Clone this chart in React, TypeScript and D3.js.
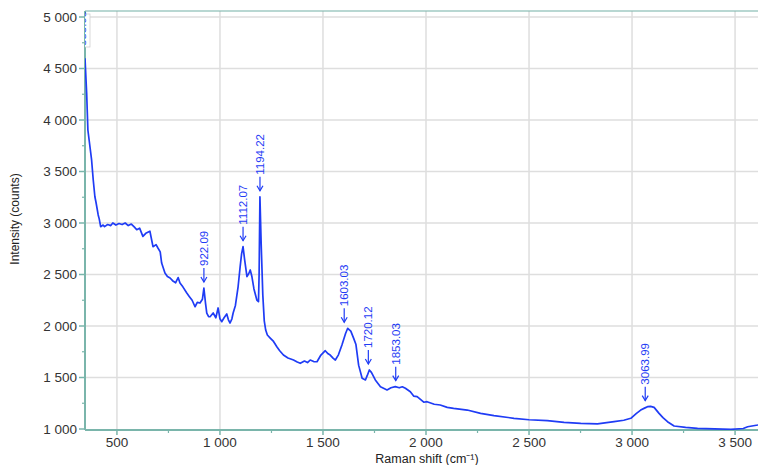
import React from 'react';
import * as d3 from 'd3';

// Raman spectrum: [wavenumber cm-1, intensity counts]
const shift = [
  345, 353, 359, 365, 377, 385, 393, 399, 409, 414, 421, 433,
  440, 455, 470, 480, 495, 510, 525, 540, 555, 570, 585, 596, 610, 626, 640, 660,
  675, 690, 699, 710, 717, 733, 745, 758, 770, 785, 797, 806, 820, 839, 850, 865,
  879, 890, 903, 915, 922, 930, 936, 945, 952, 967, 980, 991, 1000, 1009, 1020,
  1033, 1041, 1049, 1058, 1064, 1075, 1088, 1098, 1105, 1112, 1120, 1131, 1140,
  1147, 1155, 1165, 1179, 1187, 1190, 1194, 1200, 1208, 1215, 1222, 1230, 1244,
  1260, 1276, 1290, 1308, 1330, 1357, 1375, 1390, 1410, 1425, 1438, 1455, 1471,
  1490, 1511, 1525, 1535, 1550, 1560, 1575, 1592, 1610, 1620, 1635, 1649, 1660,
  1673, 1690, 1706, 1715, 1725, 1735, 1754, 1779, 1811, 1830, 1851, 1870, 1885,
  1900, 1924, 1940, 1957, 1989, 2005, 2040, 2069, 2103, 2134, 2200, 2265, 2330,
  2427, 2500, 2589, 2670, 2751, 2832, 2913, 2960, 2994, 3020, 3042, 3063, 3075,
  3090, 3107, 3131, 3150, 3172, 3204, 3260, 3318, 3400, 3480, 3540, 3561, 3610, 3625,
];
const counts = [
  4600, 4262, 3903, 3806, 3612, 3417, 3255, 3194, 3078, 3040, 2964, 2980,
  2965, 2985, 2975, 3000, 2980, 2995, 2985, 3000, 2975, 2990, 2960, 2935, 2950, 2870, 2900, 2920,
  2770, 2790, 2757, 2720, 2611, 2515, 2480, 2466, 2440, 2420, 2470, 2417, 2380, 2320, 2290, 2250,
  2187, 2230, 2223, 2260, 2369, 2220, 2126, 2090, 2090, 2126, 2080, 2175, 2070, 2042, 2080,
  2117, 2060, 2029, 2070, 2126, 2200, 2381, 2576, 2700, 2770, 2640, 2479, 2510,
  2544, 2480, 2360, 2252, 2236, 2500, 3255, 2800, 2300, 2050, 1961, 1913, 1883,
  1850, 1799, 1760, 1718, 1690, 1670, 1650, 1638, 1660, 1645, 1670, 1655, 1653,
  1718, 1760, 1730, 1718, 1686, 1670, 1720, 1816, 1930, 1978, 1950, 1880, 1820,
  1620, 1492, 1476, 1520, 1573, 1550, 1476, 1411, 1379, 1400, 1411, 1400, 1410,
  1395, 1362, 1320, 1314, 1260, 1265, 1240, 1233, 1210, 1200, 1184, 1152, 1130,
  1104, 1090, 1081, 1065, 1055, 1049, 1071, 1085, 1104, 1150, 1184, 1205, 1217,
  1220, 1210, 1152, 1110, 1071, 1029, 1015, 1007, 1002, 997, 1005, 1022, 1039, 1045,
];

const peakLabels = ['922.09', '1112.07', '1194.22', '1603.03', '1720.12', '1853.03', '3063.99'];
const xTicks = [500, 1000, 1500, 2000, 2500, 3000, 3500];
const yTicks = [1000, 1500, 2000, 2500, 3000, 3500, 4000, 4500, 5000];

const W = 758;
const H = 465;
const left = 85;
const top = 11;
const bottom = 430;

const axisColor = '#7ab5ab';
const gridColor = '#dedede';
const lineColor = '#1f3cf5';
const labelFont = '"Liberation Sans", Arial, sans-serif';

const fmt = (v: number) => d3.format(',')(v).replace(/,/g, ' ');

export default function App() {
  const x = d3.scaleLinear().domain([345, 3621]).range([left, 760]);
  const y = d3.scaleLinear().domain([1000, 5000]).range([429, 17]);

  const pts: [number, number][] = shift.map((s, i) => [s, counts[i]]);
  const line = d3.line<[number, number]>().x(d => x(d[0])).y(d => y(d[1]));

  const minorX = d3.range(750, 3621, 500);
  const minorY = d3.range(1250, 5000, 500);

  const arrows = peakLabels.map(lbl => {
    const v = +lbl;
    const near = pts.filter(p => Math.abs(p[0] - v) <= 20);
    const peak = d3.max(near, p => p[1]) ?? 1000;
    const tip = y(peak) - 6;
    return { lbl, px: x(v), tip };
  });

  return (
    <svg width={W} height={H} style={{ position: 'absolute', left: 0, top: 0, background: '#fff' }}>
      <defs>
        <clipPath id="plot">
          <rect x={left} y={top} width={W - left} height={bottom - top} />
        </clipPath>
      </defs>

      {/* grid */}
      {xTicks.map(t => (
        <line key={'gx' + t} x1={x(t)} x2={x(t)} y1={top} y2={bottom} stroke={gridColor} strokeWidth={1.5} />
      ))}
      {yTicks.filter(t => t > 1000).map(t => (
        <line key={'gy' + t} x1={left} x2={W} y1={y(t)} y2={y(t)} stroke={gridColor} strokeWidth={1.5} />
      ))}

      {/* frame */}
      <line x1={left} x2={W} y1={top} y2={top} stroke={axisColor} strokeWidth={1.5} opacity={0.7} />
      <line x1={left} x2={left} y1={top} y2={bottom} stroke={axisColor} strokeWidth={2} />
      <line x1={left} x2={W} y1={bottom} y2={bottom} stroke={axisColor} strokeWidth={2} />

      {/* y ticks */}
      {yTicks.map(t => (
        <g key={'yt' + t}>
          <line x1={left - 6} x2={left} y1={y(t)} y2={y(t)} stroke={axisColor} strokeWidth={1.5} />
          <text x={left - 8} y={y(t)} dy="0.35em" textAnchor="end" fontFamily={labelFont} fontSize={13.5} fill="#333">
            {fmt(t)}
          </text>
        </g>
      ))}
      {minorY.map(t => (
        <line key={'my' + t} x1={left - 3} x2={left} y1={y(t)} y2={y(t)} stroke={axisColor} strokeWidth={1.2} />
      ))}

      {/* x ticks */}
      {xTicks.map(t => (
        <g key={'xt' + t}>
          <line x1={x(t)} x2={x(t)} y1={bottom} y2={bottom + 5} stroke={axisColor} strokeWidth={1.5} />
          <text x={x(t)} y={bottom + 12} dy="0.35em" textAnchor="middle" fontFamily={labelFont} fontSize={13.5} fill="#333">
            {fmt(t)}
          </text>
        </g>
      ))}
      {minorX.map(t => (
        <line key={'mx' + t} x1={x(t)} x2={x(t)} y1={bottom} y2={bottom + 3} stroke={axisColor} strokeWidth={1.2} />
      ))}

      {/* axis titles */}
      <text x={427} y={463} textAnchor="middle" fontFamily={labelFont} fontSize={12.5} fill="#222">
        Raman shift (cm⁻¹)
      </text>
      <text transform="translate(19,219) rotate(-90)" textAnchor="middle" fontFamily={labelFont} fontSize={12} fill="#222">
        Intensity (counts)
      </text>

      {/* spectrum */}
      <g clipPath="url(#plot)">
        <path d={line(pts) ?? ''} fill="none" stroke={lineColor} strokeWidth={1.7} strokeLinejoin="round" />
        <rect x={84} y={14} width={6} height={33} fill="#fff" stroke="#cfcfcf" strokeWidth={0.8} />
        <text transform="translate(86,46) rotate(-90)" fontFamily={labelFont} fontSize={11.5} fill={lineColor}>
          353.95
        </text>
      </g>

      {/* peak annotations */}
      {arrows.map(a => (
        <g key={a.lbl} stroke={lineColor} fill="none" strokeWidth={1.2}>
          <line x1={a.px} x2={a.px} y1={a.tip - 14} y2={a.tip} />
          <path d={`M${a.px - 3},${a.tip - 5}L${a.px},${a.tip}L${a.px + 3},${a.tip - 5}`} />
          <text
            transform={`translate(${a.px},${a.tip - 16}) rotate(-90)`}
            dy="0.35em"
            textAnchor="start"
            fontFamily={labelFont}
            fontSize={11.5}
            fill={lineColor}
            stroke="none"
          >
            {a.lbl}
          </text>
        </g>
      ))}
    </svg>
  );
}
